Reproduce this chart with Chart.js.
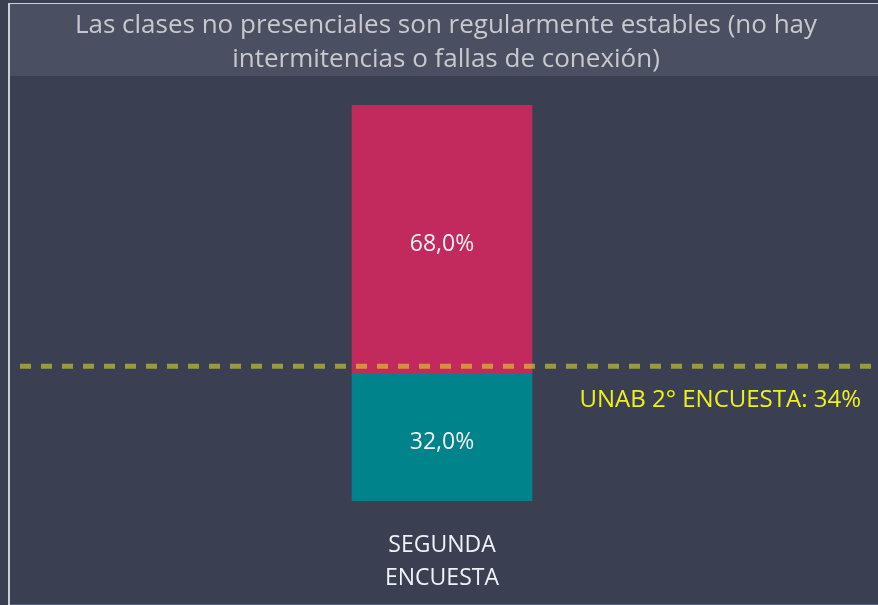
<!DOCTYPE html>
<html>
<head>
<meta charset="utf-8">
<script src="https://cdn.jsdelivr.net/npm/chart.js@4.4.1/dist/chart.umd.min.js"></script>
<style>
html,body{margin:0;padding:0;background:#3a4052;}
#wrap{position:relative;width:878px;height:605px;}
</style>
</head>
<body>
<div id="wrap"><canvas id="c" width="878" height="605"></canvas></div>
<script>
const categories = [["SEGUNDA", "ENCUESTA"]];
const seriesNames = ["Sí", "No"];
const bottomValues = [32.0];
const topValues = [68.0];
const referenceValue = 34;
const referenceLabel = "UNAB 2° ENCUESTA: 34%";
const titleLines = ["Las clases no presenciales son regularmente estables (no hay", "intermitencias o fallas de conexión)"];

const FONT = "'Open Sans', 'Noto Sans', sans-serif";

const framePlugin = {
  id: 'frame',
  beforeDraw(chart) {
    const ctx = chart.ctx;
    ctx.save();
    ctx.fillStyle = '#3a4052';
    ctx.fillRect(0, 0, 878, 605);
    ctx.fillStyle = '#4a5061';
    ctx.fillRect(9, 4, 869, 72);
    ctx.fillStyle = '#c9d0dc';
    ctx.fillRect(8, 3, 870, 1);
    ctx.fillRect(8, 3, 2, 602);
    ctx.fillStyle = '#56607a';
    ctx.fillRect(10, 604, 868, 1);
    ctx.fillStyle = '#c8c9cd';
    ctx.font = "26px " + FONT;
    ctx.textAlign = 'center';
    ctx.textBaseline = 'middle';
    ctx.fillText(titleLines[0], 446, 26);
    ctx.fillText(titleLines[1], 446, 60);
    ctx.restore();
  }
};

const overlayPlugin = {
  id: 'overlay',
  afterDatasetsDraw(chart) {
    const ctx = chart.ctx;
    const y = chart.scales.y;
    ctx.save();
    ctx.fillStyle = '#f2f2f6';
    ctx.font = "23px " + FONT;
    ctx.textAlign = 'center';
    ctx.textBaseline = 'middle';
    chart.data.datasets.forEach((ds, di) => {
      const meta = chart.getDatasetMeta(di);
      meta.data.forEach((bar, i) => {
        const p = bar.getProps(['x', 'y', 'base'], true);
        const cy = (p.y + p.base) / 2 + 5;
        ctx.fillText(ds.data[i].toFixed(1).replace('.', ',') + '%', p.x, cy);
      });
    });
    const ry = y.getPixelForValue(referenceValue);
    ctx.strokeStyle = 'rgba(232,232,40,0.55)';
    ctx.lineWidth = 5;
    ctx.setLineDash([11, 10]);
    ctx.beginPath();
    ctx.moveTo(20, ry);
    ctx.lineTo(878, ry);
    ctx.stroke();
    ctx.setLineDash([]);
    ctx.fillStyle = '#f0f01e';
    ctx.font = "24px " + FONT;
    ctx.textAlign = 'right';
    ctx.fillText(referenceLabel, 861, ry + 34);
    ctx.restore();
  }
};

new Chart(document.getElementById('c'), {
  type: 'bar',
  data: {
    labels: categories,
    datasets: [
      { label: seriesNames[0], data: bottomValues, backgroundColor: '#00838a', borderWidth: 0 },
      { label: seriesNames[1], data: topValues, backgroundColor: '#c2295c', borderWidth: 0 }
    ]
  },
  options: {
    responsive: false,
    animation: false,
    events: [],
    layout: { padding: { top: 105, left: 8, right: 2, bottom: 10 } },
    plugins: { legend: { display: false }, title: { display: false }, tooltip: { enabled: false } },
    datasets: { bar: { barThickness: 180 } },
    scales: {
      x: {
        stacked: true,
        grid: { display: false },
        border: { display: false },
        afterFit: (scale) => { scale.height = 94; },
        ticks: { color: '#f0f2f6', font: { family: FONT, size: 23, lineHeight: 1.43 }, padding: 20 }
      },
      y: {
        stacked: true,
        display: false,
        min: 0,
        max: 100
      }
    }
  },
  plugins: [framePlugin, overlayPlugin]
});
</script>
</body>
</html>
